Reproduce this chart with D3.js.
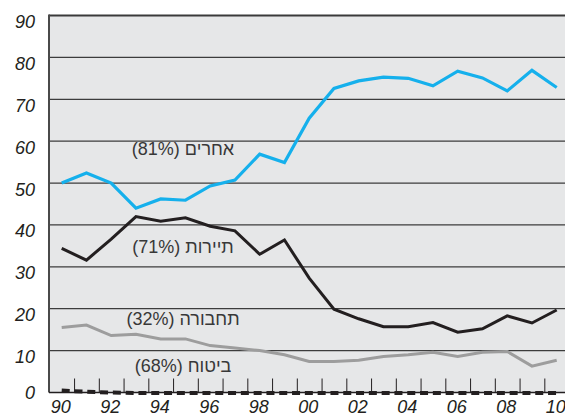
<!DOCTYPE html>
<html>
<head>
<meta charset="utf-8">
<script src="https://cdn.jsdelivr.net/npm/d3@7"></script>
<style>
  body { margin: 0; background: #fff; }
  svg { display: block; }
  .lbl { font-family: "Liberation Sans", Arial, sans-serif; font-size: 18px; fill: #383838; }
  .tick-lbl { font-family: "Liberation Sans", Arial, sans-serif; font-size: 18px; font-style: italic; fill: #231f20; }
</style>
</head>
<body>
<svg id="chart" width="565" height="416"></svg>
<script>
// data
const years = d3.range(1990, 2011);
const others    = [50, 52.4, 50, 44, 46.2, 45.9, 49.3, 50.7, 56.9, 54.9, 65.5, 72.6, 74.4, 75.3, 75.0, 73.2, 76.7, 75.1, 72.0, 76.9, 72.8];
const tourism   = [34.4, 31.6, 36.6, 42.0, 40.9, 41.7, 39.7, 38.6, 33.0, 36.4, 27.3, 19.9, 17.6, 15.7, 15.7, 16.7, 14.4, 15.2, 18.3, 16.6, 19.7];
const transport = [15.5, 16.1, 13.6, 13.9, 12.8, 12.8, 11.2, 10.6, 10.0, 9.0, 7.4, 7.4, 7.7, 8.6, 9.0, 9.6, 8.6, 9.6, 9.8, 6.3, 7.7];
const insurance = [0.6, 0.3, 0.1, 0, 0, 0, 0, 0, 0, 0, 0, 0, 0, 0, 0, 0, 0, 0, 0, 0, 0];
const yTicks = [0, 10, 20, 30, 40, 50, 60, 70, 80, 90];
const xLabels = [1990, 1992, 1994, 1996, 1998, 2000, 2002, 2004, 2006, 2008, 2010];

const labels = [
  { text: "אחרים (81%)", at: 56.8 },
  { text: "תיירות (71%)", at: 33.4 },
  { text: "תחבורה (32%)", at: 16.1 },
  { text: "ביטוח (68%)", at: 5.0 }
];

const svg = d3.select('#chart');
const plotL = 49, plotT = 15.5, plotR = 566, plotB = 392.5;

const x = d3.scaleLinear().domain([1990, 2010]).range([61.7, 556.7]);
const y = d3.scaleLinear().domain([0, 90]).range([plotB, plotT]);

svg.append("rect")
  .attr("x", plotL).attr("y", plotT)
  .attr("width", plotR - plotL).attr("height", plotB - plotT)
  .attr("fill", "#e6e7e8");

// grid lines
svg.append("g")
  .selectAll("line")
  .data(yTicks.filter(d => d > 0 && d < 90))
  .enter().append("line")
    .attr("x1", plotL).attr("x2", plotR)
    .attr("y1", d => y(d)).attr("y2", d => y(d))
    .attr("stroke", "#3c3c3c")
    .attr("stroke-width", 1.3);

// frame: top and left
svg.append("line")
  .attr("x1", plotL).attr("x2", plotR).attr("y1", plotT).attr("y2", plotT)
  .attr("stroke", "#3a3a3a").attr("stroke-width", 2);
svg.append("line")
  .attr("x1", plotL).attr("x2", plotL).attr("y1", plotT - 1).attr("y2", plotB)
  .attr("stroke", "#4a4a4a").attr("stroke-width", 2);

// small year ticks upward from the base line
const xAxis = d3.axisBottom(x)
  .tickValues(d3.range(1990.5, 2010, 1))
  .tickSize(-14)
  .tickFormat("");
const gx = svg.append("g").attr("transform", "translate(0," + plotB + ")").call(xAxis);
gx.select(".domain").remove();
gx.selectAll(".tick line").attr("stroke", "#231f20").attr("stroke-width", 1);

svg.append("line")
  .attr("x1", plotL).attr("x2", plotR).attr("y1", plotB).attr("y2", plotB)
  .attr("stroke", "#231f20").attr("stroke-width", 1.5);

// y labels
svg.append("g")
  .selectAll("text")
  .data(yTicks)
  .enter().append("text")
    .attr("class", "tick-lbl")
    .attr("x", 35)
    .attr("y", d => y(d) + (d === 0 ? 6.5 : 12.5))
    .attr("text-anchor", "end")
    .text(d => d);

// x labels
svg.append("g")
  .selectAll("text")
  .data(xLabels)
  .enter().append("text")
    .attr("class", "tick-lbl")
    .attr("x", d => x(d) - 1)
    .attr("y", 412.5)
    .attr("text-anchor", "middle")
    .text(d => String(d).slice(2));

const line = d3.line()
  .x((d, i) => x(years[i]))
  .y(d => y(d));

svg.append("path").datum(transport)
  .attr("d", line).attr("fill", "none")
  .attr("stroke", "#9d9d9d").attr("stroke-width", 3);

svg.append("path").datum(tourism)
  .attr("d", line).attr("fill", "none")
  .attr("stroke", "#231f20").attr("stroke-width", 3);

svg.append("path").datum(others)
  .attr("d", line).attr("fill", "none")
  .attr("stroke", "#15b0ec").attr("stroke-width", 3.2);

svg.append("path").datum(insurance)
  .attr("d", line).attr("fill", "none")
  .attr("stroke", "#231f20").attr("stroke-width", 4)
  .attr("stroke-dasharray", "8,4.8")
  .attr("transform", "translate(0,0.5)");

// series labels
svg.append("g")
  .selectAll("text")
  .data(labels)
  .enter().append("text")
    .attr("class", "lbl")
    .attr("direction", "rtl")
    .attr("x", 183)
    .attr("y", d => y(d.at))
    .attr("text-anchor", "middle")
    .text(d => d.text);
</script>
</body>
</html>
